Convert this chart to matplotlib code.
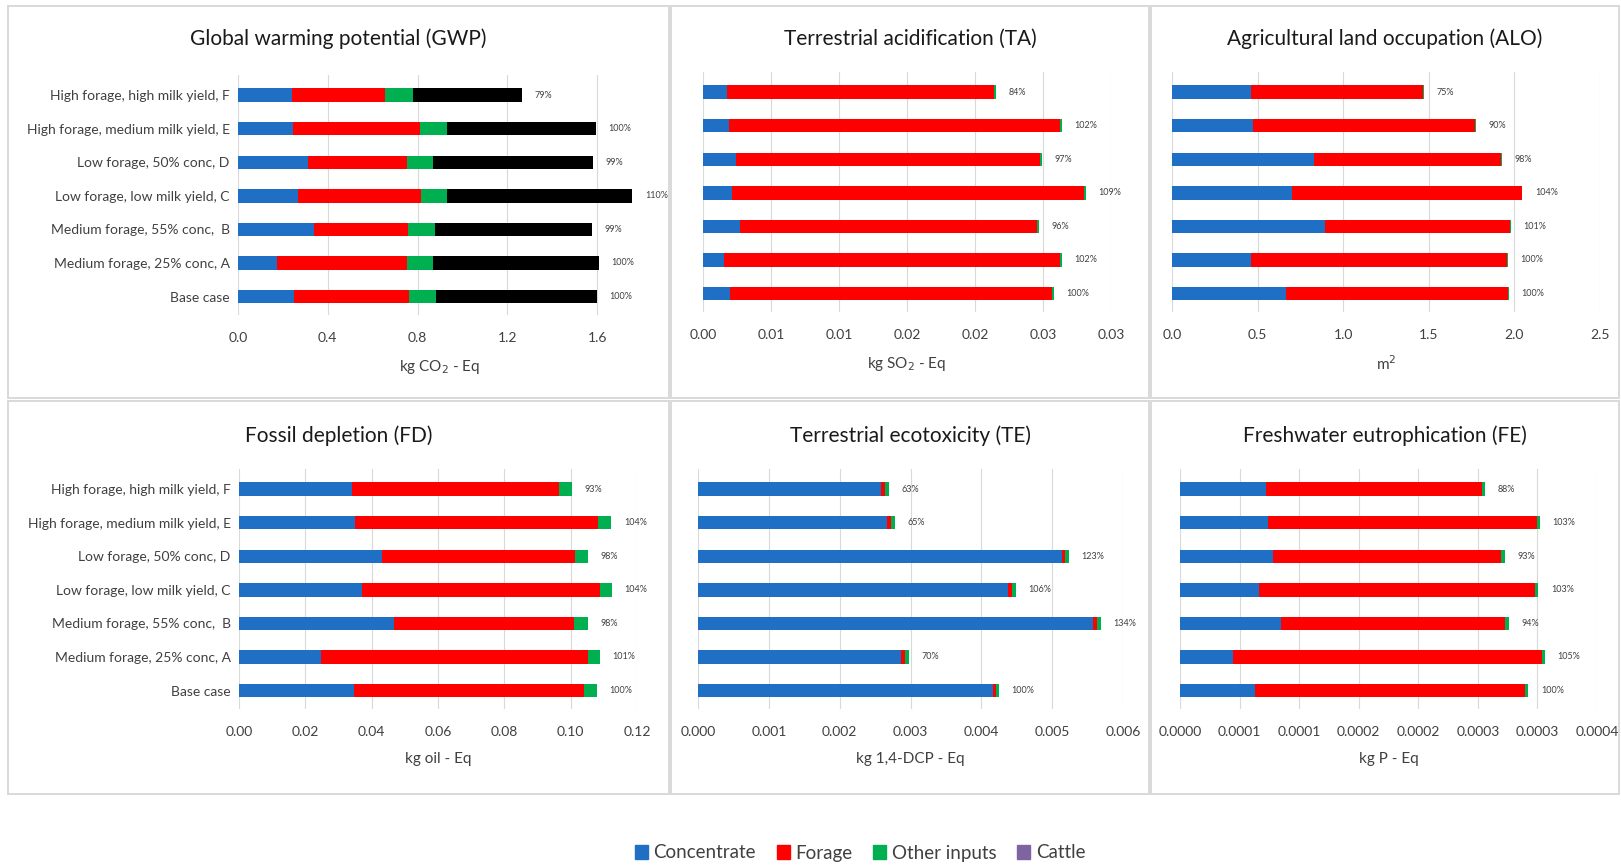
import matplotlib
matplotlib.use("Agg")
import matplotlib.pyplot as plt
from matplotlib.patches import Patch, Rectangle
import numpy as np

plt.rcParams["font.family"] = ["Lato", "DejaVu Sans"]

# ---------------------------------------------------------------------------
# Data (display order: top row first)
# ---------------------------------------------------------------------------
scenarios = [
    "High forage, high milk yield, F",
    "High forage, medium milk yield, E",
    "Low forage, 50% conc, D",
    "Low forage, low milk yield, C",
    "Medium forage, 55% conc,  B",
    "Medium forage, 25% conc, A",
    "Base case",
]

gwp_concentrate = [0.240, 0.247, 0.312, 0.266, 0.337, 0.174, 0.249]
gwp_forage = [0.417, 0.565, 0.443, 0.548, 0.422, 0.581, 0.514]
gwp_other = [0.121, 0.119, 0.115, 0.117, 0.117, 0.115, 0.117]
gwp_cattle = [0.489, 0.665, 0.713, 0.826, 0.703, 0.738, 0.720]
gwp_pct = ["79%", "100%", "99%", "110%", "99%", "100%", "100%"]

ta_concentrate = [0.00180, 0.00193, 0.00244, 0.00215, 0.00269, 0.00151, 0.00198]
ta_forage = [0.01963, 0.02432, 0.02233, 0.02587, 0.02188, 0.02474, 0.02365]
ta_other = [0.00013, 0.00012, 0.00017, 0.00013, 0.00015, 0.00012, 0.00015]
ta_pct = ["84%", "102%", "97%", "109%", "96%", "102%", "100%"]

alo_concentrate = [0.461, 0.475, 0.827, 0.702, 0.896, 0.461, 0.667]
alo_forage = [1.006, 1.296, 1.097, 1.341, 1.080, 1.496, 1.298]
alo_other = [0.003, 0.003, 0.003, 0.003, 0.003, 0.003, 0.003]
alo_pct = ["75%", "90%", "98%", "104%", "101%", "100%", "100%"]

fd_concentrate = [0.0342, 0.0351, 0.0431, 0.0370, 0.0467, 0.0247, 0.0346]
fd_forage = [0.0624, 0.0731, 0.0582, 0.0717, 0.0544, 0.0805, 0.0694]
fd_other = [0.0039, 0.0041, 0.0040, 0.0038, 0.0041, 0.0037, 0.0039]
fd_pct = ["93%", "104%", "98%", "104%", "98%", "101%", "100%"]

te_concentrate = [0.002588, 0.002672, 0.005134, 0.004374, 0.005570, 0.002860, 0.004158]
te_forage = [0.000047, 0.000047, 0.000046, 0.000056, 0.000056, 0.000056, 0.000047]
te_other = [0.000056, 0.000061, 0.000057, 0.000061, 0.000061, 0.000061, 0.000040]
te_pct = ["63%", "65%", "123%", "106%", "134%", "70%", "100%"]

fe_concentrate = [7.21e-5, 7.40e-5, 7.77e-5, 6.65e-5, 8.44e-5, 4.47e-5, 6.28e-5]
fe_forage = [1.813e-4, 2.257e-4, 1.919e-4, 2.318e-4, 1.888e-4, 2.592e-4, 2.271e-4]
fe_other = [3.0e-6, 2.5e-6, 3.6e-6, 2.5e-6, 3.1e-6, 2.2e-6, 2.6e-6]
fe_pct = ["88%", "103%", "93%", "103%", "94%", "105%", "100%"]

gwp_ticks = [0.0, 0.4, 0.8, 1.2, 1.6]
gwp_ticklabels = ["0.0", "0.4", "0.8", "1.2", "1.6"]
ta_ticks = [0.0, 0.005, 0.010, 0.015, 0.020, 0.025, 0.030]
ta_ticklabels = ["0.00", "0.01", "0.01", "0.02", "0.02", "0.03", "0.03"]
alo_ticks = [0.0, 0.5, 1.0, 1.5, 2.0, 2.5]
alo_ticklabels = ["0.0", "0.5", "1.0", "1.5", "2.0", "2.5"]
fd_ticks = [0.0, 0.02, 0.04, 0.06, 0.08, 0.10, 0.12]
fd_ticklabels = ["0.00", "0.02", "0.04", "0.06", "0.08", "0.10", "0.12"]
te_ticks = [0.0, 0.001, 0.002, 0.003, 0.004, 0.005, 0.006]
te_ticklabels = ["0.000", "0.001", "0.002", "0.003", "0.004", "0.005", "0.006"]
fe_ticks = [0.0, 0.00005, 0.0001, 0.00015, 0.0002, 0.00025, 0.0003, 0.00035]
fe_ticklabels = ["0.0000", "0.0001", "0.0001", "0.0002", "0.0002",
                 "0.0003", "0.0003", "0.0004"]

# ---------------------------------------------------------------------------
# Style
# ---------------------------------------------------------------------------
C_CONC = "#1F6FC5"
C_FORAGE = "#FF0000"
C_OTHER = "#00B050"
C_BLACK = "#000000"
C_CATTLE = "#8064A2"
GRID = "#D9D9D9"
TXT = "#404040"

W, H = 1621, 867
fig = plt.figure(figsize=(W / 100, H / 100), dpi=100)


def px_axes(x0, x1, y0, y1):
    """Axes from pixel box (top-left origin)."""
    return fig.add_axes([x0 / W, 1 - y1 / H, (x1 - x0) / W, (y1 - y0) / H])


def panel_box(x0, x1, y0, y1):
    fig.add_artist(Rectangle((x0 / W, 1 - y1 / H), (x1 - x0) / W, (y1 - y0) / H,
                             transform=fig.transFigure, fill=False,
                             edgecolor=GRID, linewidth=1.4))


def draw_panel(ax, segments, colors, pct, ticks, ticklabels, xmax, xlabel,
               show_y):
    n = len(scenarios)
    ypos = np.arange(n)[::-1]
    left = np.zeros(n)
    for seg, col in zip(segments, colors):
        vals = np.array(seg)
        ax.barh(ypos, vals, left=left, height=0.4, color=col, linewidth=0,
                zorder=3)
        left = left + vals
    for y, tot, lab in zip(ypos, left, pct):
        ax.annotate(lab, (tot, y), xytext=(9, 0), textcoords="offset points",
                    ha="left", va="center", fontsize=6.5, color=TXT)
    ax.set_xlim(0, xmax)
    ax.set_ylim(-0.55, n - 0.4)
    ax.set_xticks(ticks)
    ax.set_xticklabels(ticklabels)
    ax.grid(axis="x", color=GRID, linewidth=0.8, zorder=0)
    for s in ax.spines.values():
        s.set_visible(False)
    ax.tick_params(axis="both", length=0, labelsize=10, colors=TXT, pad=12)
    if show_y:
        ax.set_yticks(ypos)
        ax.set_yticklabels(scenarios)
        ax.tick_params(axis="y", labelsize=10, pad=6)
    else:
        ax.set_yticks([])
    ax.set_xlabel(xlabel, fontsize=11, color=TXT, labelpad=10)


# panel borders
cols = [(8, 669), (671, 1149), (1151, 1619)]
rows = [(6, 398), (401, 794)]
for (ry0, ry1) in rows:
    for (cx0, cx1) in cols:
        panel_box(cx0, cx1, ry0, ry1)

titles = [
    "Global warming potential (GWP)", "Terrestrial acidification (TA)",
    "Agricultural land occupation (ALO)", "Fossil depletion (FD)",
    "Terrestrial ecotoxicity (TE)", "Freshwater eutrophication (FE)",
]
title_y = [39, 436]
for i, t in enumerate(titles):
    cx0, cx1 = cols[i % 3]
    fig.text((cx0 + cx1) / 2 / W, 1 - title_y[i // 3] / H, t, ha="center",
             va="center", fontsize=15, color="#1A1A1A")

ax = px_axes(238, 642, 75, 315)
draw_panel(ax, [gwp_concentrate, gwp_forage, gwp_other, gwp_cattle],
           [C_CONC, C_FORAGE, C_OTHER, C_BLACK], gwp_pct, gwp_ticks,
           gwp_ticklabels, 1.8, "kg CO$_2$ - Eq", True)

ax = px_axes(703, 1111, 72, 312)
draw_panel(ax, [ta_concentrate, ta_forage, ta_other],
           [C_CONC, C_FORAGE, C_OTHER], ta_pct, ta_ticks, ta_ticklabels,
           0.03, "kg SO$_2$ - Eq", False)

ax = px_axes(1172, 1600, 72, 312)
draw_panel(ax, [alo_concentrate, alo_forage, alo_other],
           [C_CONC, C_FORAGE, C_OTHER], alo_pct, alo_ticks, alo_ticklabels,
           2.5, "m$^2$", False)

ax = px_axes(239, 637, 469, 709)
draw_panel(ax, [fd_concentrate, fd_forage, fd_other],
           [C_CONC, C_FORAGE, C_OTHER], fd_pct, fd_ticks, fd_ticklabels,
           0.12, "kg oil - Eq", True)

ax = px_axes(698, 1123, 469, 709)
draw_panel(ax, [te_concentrate, te_forage, te_other],
           [C_CONC, C_FORAGE, C_OTHER], te_pct, te_ticks, te_ticklabels,
           0.006, "kg 1,4-DCP - Eq", False)

ax = px_axes(1180, 1597, 469, 709)
draw_panel(ax, [fe_concentrate, fe_forage, fe_other],
           [C_CONC, C_FORAGE, C_OTHER], fe_pct, fe_ticks, fe_ticklabels,
           0.00035, "kg P - Eq", False)

handles = [Patch(color=C_CONC, label="Concentrate"),
           Patch(color=C_FORAGE, label="Forage"),
           Patch(color=C_OTHER, label="Other inputs"),
           Patch(color=C_CATTLE, label="Cattle")]
fig.legend(handles=handles, loc="center", bbox_to_anchor=(860 / W, 1 - 853 / H),
           ncol=4, frameon=False, fontsize=13.5, handlelength=0.7,
           handleheight=0.7, handletextpad=0.3, columnspacing=1.1,
           labelcolor=TXT)

fig.savefig("out.png", dpi=100, facecolor="white")
